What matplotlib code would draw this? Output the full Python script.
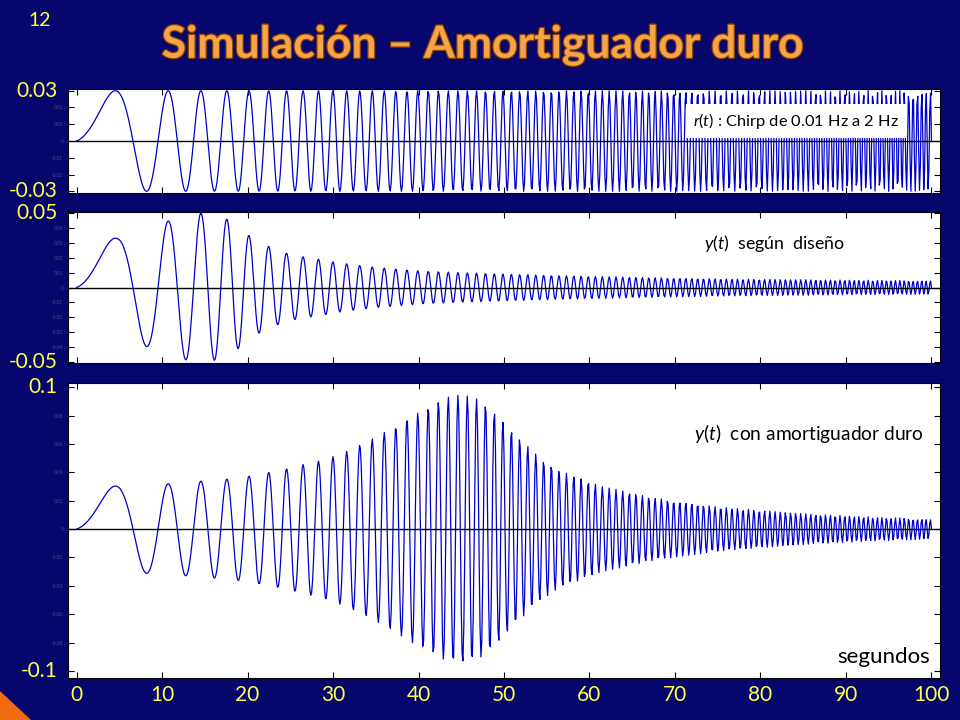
import numpy as np
import matplotlib
matplotlib.use("Agg")
import matplotlib.pyplot as plt
import matplotlib.transforms as mtransforms
import matplotlib.patheffects as pe
from matplotlib.patches import Polygon

plt.rcParams['font.family'] = ['Lato', 'DejaVu Sans']
plt.rcParams['mathtext.fontset'] = 'custom'
plt.rcParams['mathtext.rm'] = 'Lato'
plt.rcParams['mathtext.it'] = 'Lato:italic'

# input: chirp from 0.01 Hz to 2 Hz over 100 s (as given on the slide)
chirp_f0 = 0.01
chirp_f1 = 2.0
chirp_T = 100.0
chirp_amp = 0.03
dt = 0.1

# envelope of y(t) "según diseño"
env2_t = [0, 4.75, 8.45, 11.2, 13.1, 15.1, 16.7, 18.3, 19.5, 20.8, 22.0, 23.0,
          25.1, 27.1, 28.9, 30.4, 32.1, 35.0, 37.9, 40.4, 45.2, 50.3, 56, 62,
          70, 77, 85, 93, 100]
env2_a = [0.033, 0.033, 0.040, 0.0455, 0.049, 0.050, 0.048, 0.044, 0.038, 0.032,
          0.029, 0.026, 0.022, 0.020, 0.0185, 0.0167, 0.0155, 0.0135, 0.0122,
          0.011, 0.0099, 0.009, 0.008, 0.0072, 0.0063, 0.0056, 0.0052, 0.0048,
          0.0045]

# envelope of y(t) "con amortiguador duro"
env3_t = [0, 4.36, 8.2, 10.6, 14.5, 17.5, 20.1, 22.5, 24.6, 26.4, 28.3, 30.1,
          31.6, 33.2, 34.7, 36.1, 37.5, 38.8, 40.2, 41.4, 42.6, 43.8, 45.0, 46.1,
          47.2, 48.4, 49.3, 50.4, 51.4, 52.4, 53.4, 54.3, 55.3, 56.2, 57.0, 59.7,
          61.4, 64.7, 67.1, 69.8, 72.1, 74.8, 77.9, 81.9, 85.7, 89.6, 93.5, 97.4,
          100]
env3_a = [0.030, 0.0303, 0.0312, 0.0319, 0.0338, 0.0352, 0.0373, 0.040, 0.0426,
          0.0454, 0.048, 0.0513, 0.0548, 0.0596, 0.0638, 0.0685, 0.073, 0.079,
          0.0825, 0.087, 0.091, 0.094, 0.0948, 0.0936, 0.091, 0.086, 0.080, 0.073,
          0.0667, 0.0607, 0.0553, 0.0494, 0.0463, 0.0423, 0.040, 0.0343, 0.030,
          0.026, 0.0225, 0.020, 0.0182, 0.0158, 0.0142, 0.0123, 0.0106, 0.0095,
          0.0083, 0.0076, 0.0068]

x_ticks = [0, 10, 20, 30, 40, 50, 60, 70, 80, 90, 100]
y_lims = [(-0.031, 0.031), (-0.0505, 0.0505), (-0.105, 0.103)]
y_steps = [0.01, 0.01, 0.02]
y_ends = [("0.03", "-0.03"), ("0.05", "-0.05"), ("0.1", "-0.1")]
y_end_vals = [0.03, 0.05, 0.1]

t = np.arange(0, chirp_T + dt / 2, dt)
phase = 2 * np.pi * (chirp_f0 * t + (chirp_f1 - chirp_f0) / (2 * chirp_T) * t ** 2)
r = chirp_amp * np.sin(phase)
y2 = np.interp(t, env2_t, env2_a) * np.sin(phase)
y3 = np.interp(t, env3_t, env3_a) * np.sin(phase)
signals = [r, y2, y3]

navy = '#06066c'
yellow = '#ffff4a'
blue = '#0000cc'

fig = plt.figure(figsize=(9.6, 7.2), dpi=100, facecolor=navy)

boxes = [(68, 89, 940, 193), (68, 212, 940, 363), (68, 383, 940, 678)]
axes = []
for i, (x0, y0, x1, y1) in enumerate(boxes):
    ax = fig.add_axes([x0 / 960, 1 - y1 / 720, (x1 - x0) / 960, (y1 - y0) / 720])
    ax.set_facecolor('white')
    ax.plot(t, signals[i], color=blue, lw=0.9)
    ax.axhline(0, color='black', lw=1)
    ax.set_xlim(-1, 101)
    ax.set_ylim(*y_lims[i])
    ax.set_xticks(x_ticks)
    top = y_end_vals[i]
    yt = np.round(np.arange(-top, top + y_steps[i] / 2, y_steps[i]), 3)
    ax.set_yticks(yt)
    ax.set_yticklabels(['' if abs(v) == top else f"{v:g}" for v in yt],
                       fontsize=3.5, color='#4a4a86')
    ax.tick_params(direction='in', top=True, right=True, length=4, width=0.8)
    for s in ax.spines.values():
        s.set_color('black')
        s.set_linewidth(0.8)
    tr = mtransforms.blended_transform_factory(ax.transAxes, ax.transData)
    ax.text(-0.012, top, y_ends[i][0], transform=tr, ha='right', va='center',
            fontsize=15, color=yellow)
    ax.text(-0.012, -top, y_ends[i][1], transform=tr, ha='right', va='center',
            fontsize=15, color=yellow)
    if i < 2:
        ax.set_xticklabels([])
    else:
        ax.set_xticklabels([str(v) for v in x_ticks], fontsize=15, color=yellow)
        ax.tick_params(axis='x', pad=5)
    axes.append(ax)

axes[0].text(84.2, 0.69, r"$r(t)$ : Chirp de 0.01 Hz a 2 Hz",
             transform=mtransforms.blended_transform_factory(axes[0].transData, axes[0].transAxes),
             ha='center', va='center', fontsize=11.8, color='black',
             bbox=dict(facecolor='white', edgecolor='none', pad=5))
axes[1].text(0.891, 0.79, r"$y(t)$  según  diseño", transform=axes[1].transAxes,
             ha='right', va='center', fontsize=12.8, color='black')
axes[2].text(0.982, 0.83, r"$y(t)$  con amortiguador duro", transform=axes[2].transAxes,
             ha='right', va='center', fontsize=13.8, color='black')
axes[2].text(0.9885, 0.07, "segundos", transform=axes[2].transAxes,
             ha='right', va='center', fontsize=16, color='black')

fig.text(483 / 960, 1 - 45 / 720, "Simulación – Amortiguador duro", ha='center', va='center',
         fontsize=32, fontweight='bold', color='#f7a448',
         path_effects=[pe.withStroke(linewidth=1.8, foreground='#8a4300')])
fig.text(40 / 960, 1 - 20 / 720, "12", ha='center', va='center', fontsize=14, color=yellow)

fig.patches.append(Polygon([(0, 0), (30 / 960, 0), (0, 28 / 720)], closed=True,
                           transform=fig.transFigure, color='#f26a10'))

fig.savefig("out.png", dpi=100, facecolor=fig.get_facecolor())
